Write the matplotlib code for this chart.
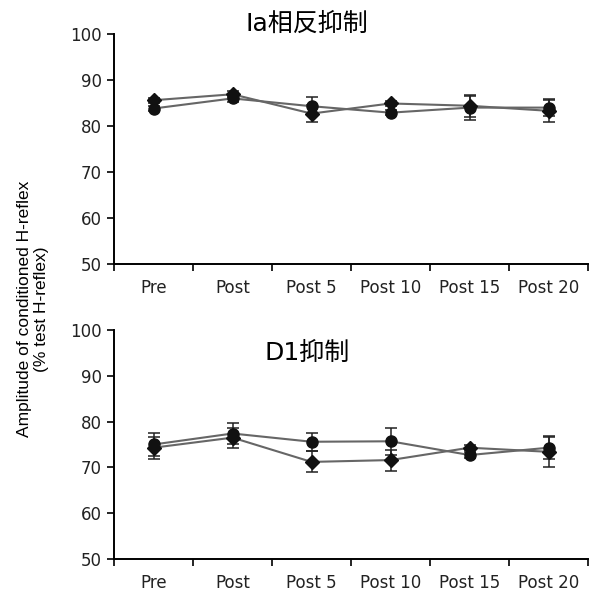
import numpy as np
import matplotlib
matplotlib.use("Agg")
import matplotlib.pyplot as plt

plt.rcParams['font.family'] = ['DejaVu Sans', 'Noto Sans CJK JP']

labels = ["Pre", "Post", "Post 5", "Post 10", "Post 15", "Post 20"]

# Ia相反抑制
ia_circle = [83.8, 86.0, 84.3, 82.9, 84.0, 84.0]
ia_circle_err = [0.5, 0.8, 2.0, 0.6, 2.6, 1.8]
ia_diamond = [85.6, 86.9, 82.7, 84.9, 84.4, 83.3]
ia_diamond_err = [0.5, 0.6, 1.8, 0.5, 2.4, 2.4]

# D1抑制
d1_circle = [75.0, 77.4, 75.6, 75.7, 72.7, 74.3]
d1_circle_err = [2.6, 2.4, 2.0, 2.9, 0.6, 2.4]
d1_diamond = [74.3, 76.5, 71.2, 71.6, 74.3, 73.4]
d1_diamond_err = [2.4, 2.2, 2.3, 2.3, 0.6, 3.4]

titles = ["Ia相反抑制", "D1抑制"]

fig = plt.figure(figsize=(5.95, 5.99), dpi=100)
ax1 = fig.add_axes([114/595, 1-264/599, 474/595, 230/599])
ax2 = fig.add_axes([114/595, 1-559/599, 474/595, 229/599])

x = np.arange(len(labels))
line_c = "#666666"
mark_c = "#111111"

def panel(ax, circ, circ_e, dia, dia_e):
    ax.errorbar(x, circ, yerr=circ_e, color=line_c, lw=1.5, ecolor="#222222",
                elinewidth=1.1, capsize=4, capthick=1.1,
                marker="o", ms=8, mfc=mark_c, mec=mark_c, zorder=3)
    ax.errorbar(x, dia, yerr=dia_e, color=line_c, lw=1.5, ecolor="#222222",
                elinewidth=1.1, capsize=4, capthick=1.1,
                marker="D", ms=7, mfc=mark_c, mec=mark_c, zorder=3)
    ax.set_xlim(-0.5, len(labels) - 0.5)
    ax.set_ylim(50, 100)
    ax.set_yticks([50, 60, 70, 80, 90, 100])
    ax.set_xticks(x)
    ax.set_xticklabels(labels)
    ax.set_xticks(np.arange(-0.5, len(labels)), minor=True)
    ax.tick_params(axis="x", which="major", length=0, pad=11, labelsize=12)
    ax.tick_params(axis="x", which="minor", length=5, width=1.2, direction="out")
    ax.tick_params(axis="y", length=5, width=1.2, direction="out", labelsize=12, pad=4)
    ax.spines["top"].set_visible(False)
    ax.spines["right"].set_visible(False)
    for s in ["left", "bottom"]:
        ax.spines[s].set_linewidth(1.4)
    for lab in ax.get_xticklabels() + ax.get_yticklabels():
        lab.set_color("#222222")

panel(ax1, ia_circle, ia_circle_err, ia_diamond, ia_diamond_err)
panel(ax2, d1_circle, d1_circle_err, d1_diamond, d1_diamond_err)

fig.text(307/595, 1-24/599, titles[0], fontsize=18, ha="center", va="center",
         family=['DejaVu Sans', 'Noto Sans CJK JP'])
fig.text(307/595, 1-353/599, titles[1], fontsize=18, ha="center", va="center",
         family=['DejaVu Sans', 'Noto Sans CJK JP'])

fig.text(33/595, 1-309/599, "Amplitude of conditioned H-reflex\n(% test H-reflex)",
         rotation=90, ha="center", va="center", fontsize=12.5, family="Liberation Sans",
         linespacing=1.1, multialignment="center")

fig.savefig("out.png", dpi=100)
